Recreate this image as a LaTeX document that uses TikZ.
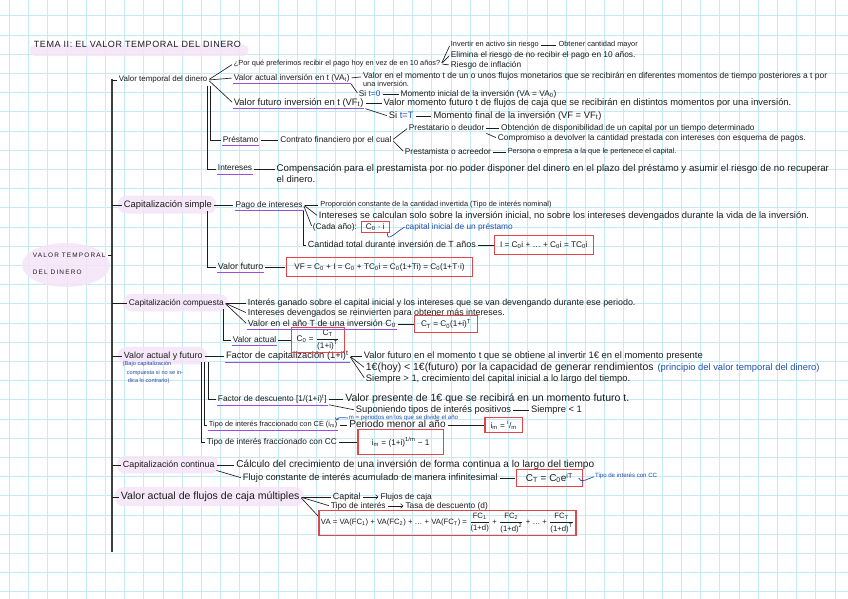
\documentclass[tikz,border=0pt]{standalone}
\usepackage{fontspec}
\setmainfont{Liberation Sans}
\newfontfamily\capsfont[LetterSpace=6]{Liberation Sans}
\newfontfamily\rootfont[LetterSpace=18]{Liberation Sans}
\usepackage{amsmath}
\usetikzlibrary{arrows.meta, positioning, backgrounds}
\definecolor{ink}{HTML}{1C1C1C}
\definecolor{gridc}{HTML}{C4EAF6}
\definecolor{hilite}{HTML}{F5E4F7}
\definecolor{ulc}{HTML}{9A4FD8}
\definecolor{boxred}{HTML}{E0474C}
\definecolor{noteblue}{HTML}{1F4FB0}
\newcommand{\sbs}[1]{\textsubscript{#1}}
\newcommand{\sps}[1]{\textsuperscript{#1}}
\newcommand{\frc}[2]{$\dfrac{\text{#1}}{\text{#2}}$}

\begin{document}
\begin{tikzpicture}[
    x=0.3mm, y=-0.3mm,
    txt/.style={anchor=west, inner sep=0.6pt, text=ink, text depth=1.6pt,
                font=\fontsize{7.1}{8}\selectfont},
    tb/.style={txt, font=\fontsize{5.2}{6}\selectfont},
    ts/.style={txt, font=\fontsize{6.3}{7}\selectfont},
    tm/.style={txt, font=\fontsize{7.1}{8}\selectfont},
    tk/.style={txt, font=\fontsize{7.6}{8.5}\selectfont},
    tl/.style={txt, font=\fontsize{8}{9}\selectfont},
    tx/.style={txt, font=\fontsize{8.6}{9.5}\selectfont},
    nb/.style={text=noteblue},
    rootcap/.style={anchor=west, inner sep=0.6pt, text=ink,
                font=\rootfont\fontsize{5.5}{6}\selectfont},
    frm/.style={inner sep=1.5pt, text=ink, font=\fontsize{7}{8}\selectfont},
    boxln/.style={draw=boxred, line width=1pt},
    ln/.style={ink, line width=0.55pt, shorten <=1pt, shorten >=1pt},
    spine/.style={ink!85, line width=1.2pt},
    uline/.style={ulc, line width=1pt},
    bl/.style={noteblue, line width=0.6pt},
    gridln/.style={gridc, line width=0.5pt},
    hl/.style={fill=hilite, fill opacity=0.85}
]
    \useasboundingbox (0,0) rectangle (848,599);

    % titulo y raiz
    \node[txt, font=\capsfont\fontsize{7.7}{8.5}\selectfont] (title) at (33,45) {TEMA II: EL VALOR TEMPORAL DEL DINERO};
    \node[rootcap] (root1) at (32,255) {VALOR TEMPORAL};
    \node[rootcap] (root2) at (32,272) {DEL DINERO};
    \coordinate (top) at (112,79);
    \coordinate (bot) at (112,552);

    % valor temporal del dinero
    \node[txt, font=\fontsize{6.8}{7.5}\selectfont] (vtd) at (118,80) {Valor temporal del dinero};
    \node[ts] (pq) at (233,64) {¿Por qué preferimos recibir el pago hoy en vez de en 10 años?};
    \node[ts] (inv) at (450,45) {Invertir en activo sin riesgo};
    \node[ts, right=5.4mm of inv] (obt) {Obtener cantidad mayor};
    \node[tm] (eli) at (450,55) {Elimina el riesgo de no recibir el pago en 10 años.};
    \node[tm] (rin) at (450,65) {Riesgo de inflación};
    \node[tm] (vat) at (233,78) {Valor actual inversión en t (VA\sbs{t})};
    \node[txt, font=\fontsize{7.2}{8}\selectfont, right=3.5mm of vat, yshift=1pt] (vatd) {Valor en el momento t de un o unos flujos monetarios que se recibirán en diferentes momentos de tiempo posteriores a t por};
    \node[ts, anchor=north west] (vatd2) at ([yshift=1.8pt]vatd.south west) {una inversión.};
    \node[tm] (si0) at (358,94) {Si \textcolor{noteblue}{t=0}};
    \node[tm, right=5.5mm of si0] (mi) {Momento inicial de la inversión (VA = VA\sbs{0})};
    \node[tl] (vft) at (233,103) {Valor futuro inversión en t (VF\sbs{t})};
    \node[tl, right=5.5mm of vft] (vftd) {Valor momento futuro t de flujos de caja que se recibirán en distintos momentos por una inversión.};
    \node[tl] (siT) at (388,116) {Si \textcolor{noteblue}{t=T}};
    \node[tl, right=5.4mm of siT] (mf) {Momento final de la inversión (VF = VF\sbs{t})};
    \node[tm] (pres) at (222,140) {Préstamo};
    \node[tm, right=6mm of pres] (cfin) {Contrato financiero por el cual};
    \node[tm] (deu) at (408,128) {Prestatario o deudor};
    \node[tm, right=4.5mm of deu] (obd) {Obtención de disponibilidad de un capital por un tiempo determinado};
    \node[tm] (comp) at (497,138) {Compromiso a devolver la cantidad prestada con intereses con esquema de pagos.};
    \node[tm] (acr) at (404,152) {Prestamista o acreedor};
    \node[ts, right=4.5mm of acr] (pers) {Persona o empresa a la que le pertenece el capital.};
    \node[tm] (int) at (217,169) {Intereses};
    \node[txt, font=\fontsize{8.3}{9}\selectfont, right=6.8mm of int] (comd) {Compensación para el prestamista por no poder disponer del dinero en el plazo del préstamo y asumir el riesgo de no recuperar};
    \node[tl, anchor=north west] (comd2) at (comd.south west) {el dinero.};

    % capitalizacion simple
    \node[tl] (csim) at (123,205) {Capitalización simple};
    \node[tm, right=6.5mm of csim] (pint) {Pago de intereses};
    \node[ts, right=4.8mm of pint] (prop) {Proporción constante de la cantidad invertida (Tipo de interés nominal)};
    \node[tl] (calc) at (318,216) {Intereses se calculan solo sobre la inversión inicial, no sobre los intereses devengados durante la vida de la inversión.};
    \node[tm] (cada) at (312,227) {(Cada año):};
    \node[frm, right=1mm of cada, minimum width=8.4mm, minimum height=3.3mm] (ci) {C\sbs{0} · i};
    \node[tm, nb, right=4.5mm of ci] (capn) {capital inicial de un préstamo};
    \node[tk] (ctot) at (307,245) {Cantidad total durante inversión de T años};
    \node[frm, right=5.4mm of ctot, minimum width=29.4mm, minimum height=5.4mm] (itot) {I = C\sbs{0}i + … + C\sbs{0}i = TC\sbs{0}i};
    \node[tk] (vfs) at (217,267) {Valor futuro};
    \node[frm, right=6.6mm of vfs, minimum width=55.8mm, minimum height=5.4mm] (vfb) {VF = C\sbs{0} + I = C\sbs{0} + TC\sbs{0}i = C\sbs{0}(1+Ti) = C\sbs{0}(1+T·i)};

    % capitalizacion compuesta
    \node[tm] (ccomp) at (128,303) {Capitalización compuesta};
    \node[tk] (igan) at (247,303) {Interés ganado sobre el capital inicial y los intereses que se van devengando durante ese periodo.};
    \node[tk] (irei) at (247,313) {Intereses devengados se reinvierten para obtener más intereses.};
    \node[tk] (vano) at (247,324) {Valor en el año T de una inversión C\sbs{0}};
    \node[frm, right=5.4mm of vano, minimum width=18.6mm, minimum height=4.8mm] (ct) {C\sbs{T} = C\sbs{0}(1+i)\sps{T}};
    \node[tm] (vac) at (232,340) {Valor actual};
    \node[frm, right=4.4mm of vac, minimum width=15.6mm, minimum height=6.3mm] (c0) {C\sbs{0} = \frc{C\sbs{T}}{(1+i)\sps{T}}};

    % valor actual y futuro
    \node[tk] (vayf) at (123,356) {Valor actual y futuro};
    \node[anchor=north west, inner sep=0.5pt, align=left, text=noteblue,
          font=\fontsize{4.8}{7.2}\selectfont] (bajo) at (122,361)
          {(Bajo capitalización\\ \hspace{1.2mm}compuesta si no se in-\\ \hspace{1.5mm}dica lo contrario)};
    \node[tl, right=6.5mm of vayf] (fcap) {Factor de capitalización (1+i)\sps{t}};
    \node[tl, right=4mm of fcap] (vfm) {Valor futuro en el momento t que se obtiene al invertir 1€ en el momento presente};
    \node[txt, font=\fontsize{8.9}{9.5}\selectfont] (hoy) at (365,368) {1€(hoy) < 1€(futuro) por la capacidad de generar rendimientos};
    \node[tl, nb, right=0.6mm of hoy] (ppio) {(principio del valor temporal del dinero)};
    \node[tl] (siem) at (365,379) {Siempre > 1, crecimiento del capital inicial a lo largo del tiempo.};
    \node[tm] (fdes) at (217,399) {Factor de descuento [1/(1+i)\sps{t}]};
    \node[txt, font=\fontsize{9}{9.5}\selectfont, right=5mm of fdes] (vpre) {Valor presente de 1€ que se recibirá en un momento futuro t.};
    \node[tl] (supo) at (355,410) {Suponiendo tipos de interés positivos};
    \node[tl, right=5.4mm of supo] (sie1) {Siempre < 1};
    \node[ts] (tce) at (208,425) {Tipo de interés fraccionado con CE (i\sbs{m})};
    \node[tb, nb] (mnote) at (348,418) {m = periodos en los que se divide el año};
    \node[tx, right=3mm of tce] (pma) {Periodo menor al año};
    \node[frm, right=11.5mm of pma, minimum width=11.1mm, minimum height=4.5mm] (imb) {i\sbs{m} = \sps{i}/\sbs{m}};
    \node[tm] (tcc) at (206,442) {Tipo de interés fraccionado con CC};
    \node[frm, right=6mm of tcc, minimum width=25.5mm, minimum height=7.2mm] (imcc) {i\sbs{m} = (1+i)\sps{1/m} − 1};

    % capitalizacion continua
    \node[tk] (ccon) at (122,465) {Capitalización continua};
    \node[tx, right=6mm of ccon] (calcc) {Cálculo del crecimiento de una inversión de forma continua a lo largo del tiempo};
    \node[tl] (fluj) at (242,478) {Flujo constante de interés acumulado de manera infinitesimal};
    \node[frm, right=5.4mm of fluj, minimum width=19.5mm, minimum height=4.8mm,
          font=\fontsize{8.5}{9}\selectfont] (cte) {C\sbs{T} = C\sbs{0}e\sps{iT}};
    \node[tb, nb, right=3.6mm of cte, yshift=1.2pt] (ccn) {Tipo de interés con CC};

    % flujos de caja multiples
    \node[txt, font=\fontsize{9}{9.5}\selectfont] (vafc) at (120,497) {Valor actual de flujos de caja múltiples};
    \node[tk] (capt) at (332,497) {Capital};
    \node[tm, right=5.4mm of capt] (flc) {Flujos de caja};
    \node[tm] (tip) at (330,506) {Tipo de interés};
    \node[tm, right=5.4mm of tip] (tasa) {Tasa de descuento (d)};
    \node[frm, minimum width=76.5mm, minimum height=7.2mm, font=\fontsize{6.6}{7.5}\selectfont] (va) at (447.5,523)
        {VA = VA(FC\sbs{1}) + VA(FC\sbs{2}) + … + VA(FC\sbs{T}) = \frc{FC\sbs{1}}{(1+d)} + \frc{FC\sbs{2}}{(1+d)\sps{2}} + … + \frc{FC\sbs{T}}{(1+d)\sps{T}}};

    % recuadros de formulas
    \foreach \n in {ci,itot,vfb,ct,c0,imb,imcc,cte,va}
        \draw[boxln] (\n.south west) rectangle (\n.north east);

    % conectores
    \draw[spine] (top) -- (bot);
    \foreach \n in {vtd,csim,ccomp,vayf,ccon,vafc}
        \draw[ln, shorten <=0pt] (top |- \n.west) -- (\n.west);
    \draw[ln, shorten >=0pt] (root1.east) -- (top |- root1.east);

    \foreach \n in {pq,vat,vft}
        \draw[ln] (vtd.east) -- (\n.west);
    \draw[ln] ([xshift=-1pt]vtd.south east) |- (int.west);
    \draw[ln] ([xshift=2pt]vtd.south east) |- (pres.west);
    \foreach \n in {inv,eli,rin}
        \draw[ln] (pq.east) -- (\n.west);
    \draw[ln] (inv.east) -- (obt.west);
    \draw[ln] (vat.east) -- (vatd.west);
    \draw[ln] (vat.south east) -- (si0.west);
    \draw[ln] (si0.east) -- (mi.west);
    \draw[ln] (vft.east) -- (vftd.west);
    \draw[ln] (vft.south east) -- (siT.west);
    \draw[ln] (siT.east) -- (mf.west);
    \draw[ln] (pres.east) -- (cfin.west);
    \foreach \n in {deu,acr}
        \draw[ln] (cfin.east) -- (\n.west);
    \draw[ln] (deu.east) -- (obd.west);
    \draw[ln] (deu.south east) -- (comp.west);
    \draw[ln] (acr.east) -- (pers.west);
    \draw[ln] (int.east) -- (comd.west);

    \draw[ln] (csim.east) -- (pint.west);
    \draw[ln] (pint.east) -- (prop.west);
    \foreach \n in {calc,cada}
        \draw[ln] (pint.east) -- (\n.west);
    \draw[ln] (pint.south east) |- (ctot.west);
    \draw[ln] ([xshift=-5pt]csim.south east) |- (vfs.west);
    \draw[bl] ([xshift=-2pt]ci.south east) .. controls +(0,10) and +(-10,6) .. (capn.west);
    \draw[ln] (ctot.east) -- (itot.west);
    \draw[ln] (vfs.east) -- (vfb.west);

    \foreach \n in {igan,irei,vano}
        \draw[ln] (ccomp.east) -- (\n.west);
    \draw[ln] ([xshift=-1pt]ccomp.south east) |- (vac.west);
    \draw[ln] (vano.east) -- (ct.west);
    \draw[ln] (vac.east) -- (c0.west);

    \draw[ln] (vayf.east) -- (fcap.west);
    \foreach \n in {vfm,hoy,siem}
        \draw[ln] (fcap.east) -- (\n.west);
    \draw[ln] ([xshift=4.5pt]vayf.south east) |- (fdes.west);
    \draw[ln] ([xshift=1.2pt]vayf.south east) |- (tce.west);
    \draw[ln] ([xshift=-2pt]vayf.south east) |- (tcc.west);
    \draw[ln] (fdes.east) -- (vpre.west);
    \draw[ln] (fdes.south east) -- (supo.west);
    \draw[ln] (supo.east) -- (sie1.west);
    \draw[ln] (tce.east) -- (pma.west);
    \draw[ln] (pma.east) -- (imb.west);
    \draw[bl, -{Straight Barb[length=1.5pt]}] (mnote.west) .. controls +(-4,0) and +(2,-4) .. ([xshift=-2pt]tce.north east);
    \draw[ln] (tcc.east) -- (imcc.west);

    \draw[ln] (ccon.east) -- (calcc.west);
    \draw[ln] (ccon.south east) -- (fluj.west);
    \draw[ln] (fluj.east) -- (cte.west);
    \draw[bl] ([xshift=-3pt]cte.east) .. controls +(2,6) and +(-6,2) .. (ccn.west);

    \foreach \n in {capt,tip}
        \draw[ln] (vafc.east) -- (\n.west);
    \draw[ln] (vafc.east) -- ([yshift=1.8mm]va.west);
    \draw[ln, -{Straight Barb[length=2pt]}] (capt.east) -- (flc.west);
    \draw[ln, -{Straight Barb[length=2pt]}] (tip.east) -- (tasa.west);

    % subrayados
    \foreach \n in {vat,vft,pres,int,pint,vfs,vano,vac,fcap,fdes,tce}
        \draw[uline] ([yshift=-0.5pt]\n.south west) -- ([yshift=-0.5pt]\n.south east);

    % fondo: cuadricula y resaltados
    \begin{scope}[on background layer]
        \fill[white] (0,0) rectangle (848,599);
        \foreach \k in {0,...,43}
            \draw[gridln] ({9.3+19.2*\k},0) -- ({9.3+19.2*\k},599);
        \foreach \k in {0,...,30}
            \draw[gridln] (0,{15.6+19.2*\k}) -- (848,{15.6+19.2*\k});
        \fill[hl, rounded corners=1.5mm] ([xshift=-1mm,yshift=-1.8mm]title.south west) rectangle ([xshift=2mm]title.east);
        \fill[hl] (66,265) ellipse [x radius=13.2mm, y radius=6.6mm];
        \foreach \n in {csim,ccomp,vayf,ccon,vafc}
            \fill[hl, rounded corners=2.5mm] ([xshift=-1.5mm,yshift=-1mm]\n.south west) rectangle ([xshift=1mm,yshift=1.2mm]\n.north east);
    \end{scope}
\end{tikzpicture}
\end{document}
